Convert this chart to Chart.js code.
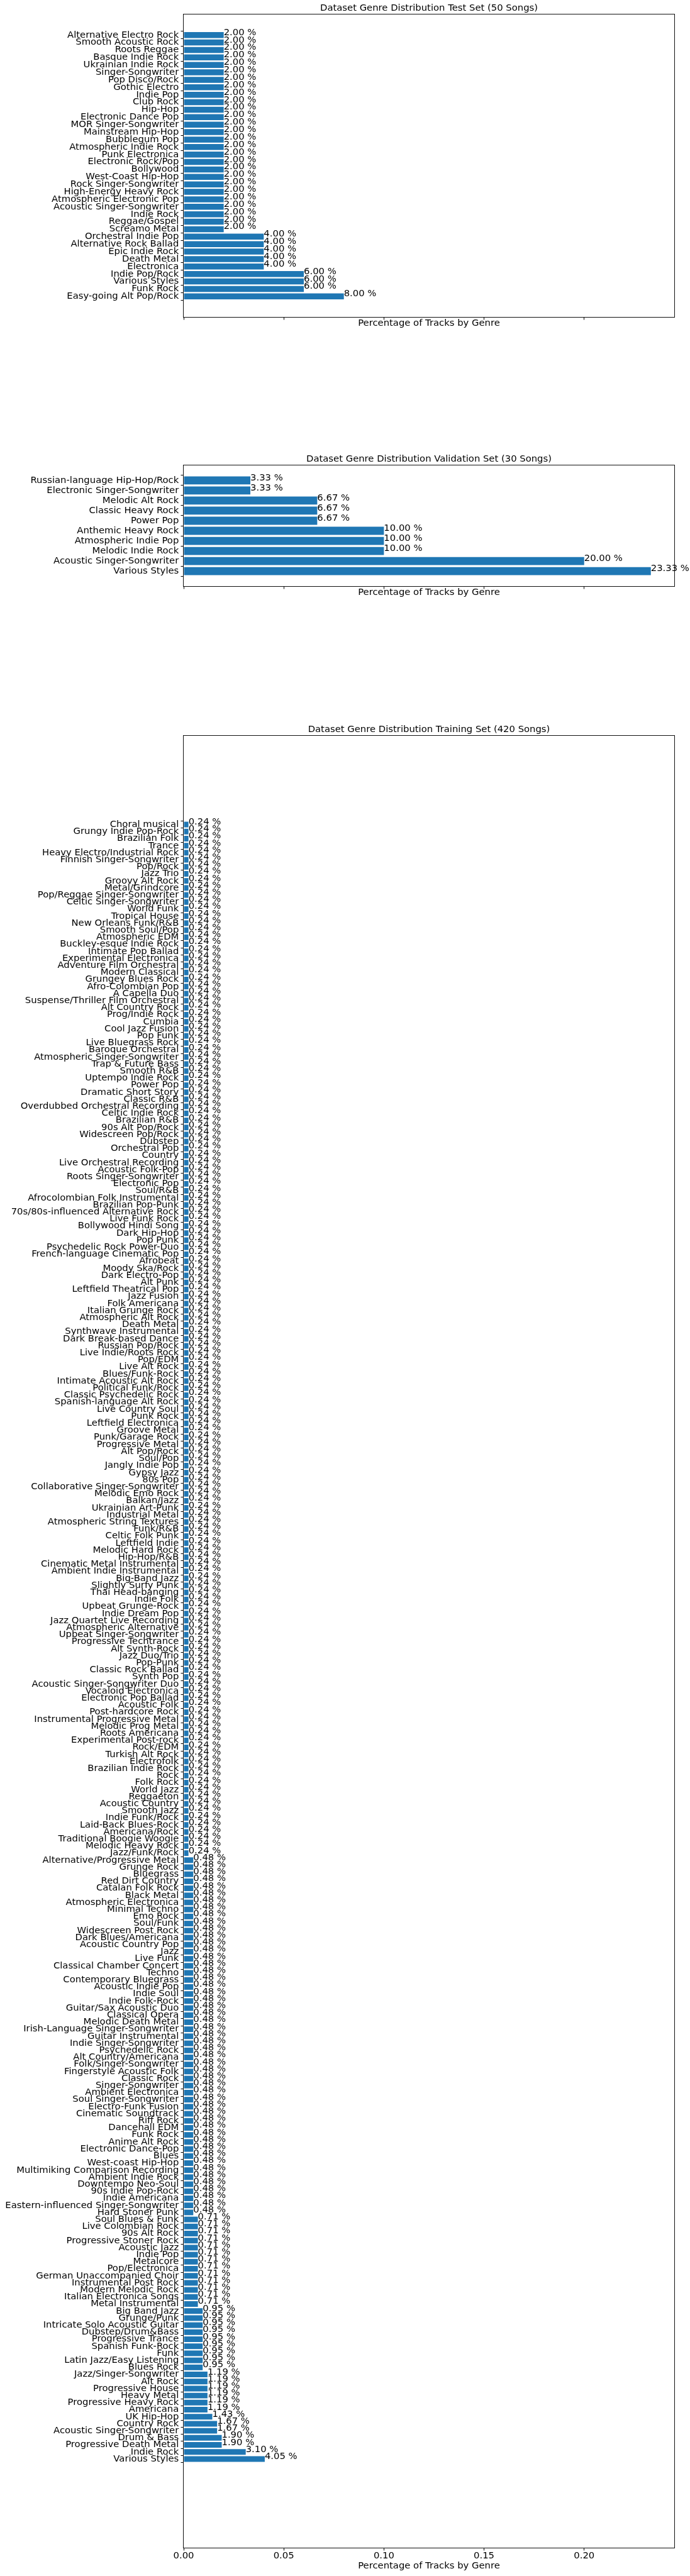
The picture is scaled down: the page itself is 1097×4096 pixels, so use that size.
<!DOCTYPE html>
<html><head><meta charset="utf-8">
<script src="https://cdn.jsdelivr.net/npm/chart.js@4.4.1/dist/chart.umd.min.js"></script>
<style>
html,body{margin:0;padding:0;background:#fff;}
#wrap{position:relative;width:1097px;height:4096px;background:#fff;overflow:hidden;}
canvas{position:absolute;left:0;}
</style></head><body><div id="wrap">
<canvas id="cTest"></canvas><canvas id="cVal"></canvas><canvas id="cTrain"></canvas>
</div>
<script>
// ---------------- DATA ----------------
const xLabel = "Percentage of Tracks by Genre";
const xTickValues = [0, 0.05, 0.10, 0.15, 0.20];
const xTickLabels = ["0.00", "0.05", "0.10", "0.15", "0.20"];

const testTitle = "Dataset Genre Distribution Test Set (50 Songs)";
const testCats = [
 "Alternative Electro Rock","Smooth Acoustic Rock","Roots Reggae","Basque Indie Rock","Ukrainian Indie Rock",
 "Singer-Songwriter","Pop Disco/Rock","Gothic Electro","Indie Pop","Club Rock","Hip-Hop","Electronic Dance Pop",
 "MOR Singer-Songwriter","Mainstream Hip-Hop","Bubblegum Pop","Atmospheric Indie Rock","Punk Electronica",
 "Electronic Rock/Pop","Bollywood","West-Coast Hip-Hop","Rock Singer-Songwriter","High-Energy Heavy Rock",
 "Atmospheric Electronic Pop","Acoustic Singer-Songwriter","Indie Rock","Reggae/Gospel","Screamo Metal",
 "Orchestral Indie Pop","Alternative Rock Ballad","Epic Indie Rock","Death Metal","Electronica",
 "Indie Pop/Rock","Various Styles","Funk Rock","Easy-going Alt Pop/Rock"
];
const testPct = [
 2.00,2.00,2.00,2.00,2.00,2.00,2.00,2.00,2.00,
 2.00,2.00,2.00,2.00,2.00,2.00,2.00,2.00,2.00,
 2.00,2.00,2.00,2.00,2.00,2.00,2.00,2.00,2.00,
 4.00,4.00,4.00,4.00,4.00,
 6.00,6.00,6.00,
 8.00
];

const valTitle = "Dataset Genre Distribution Validation Set (30 Songs)";
const valCats = [
 "Russian-language Hip-Hop/Rock","Electronic Singer-Songwriter","Melodic Alt Rock","Classic Heavy Rock",
 "Power Pop","Anthemic Heavy Rock","Atmospheric Indie Pop","Melodic Indie Rock",
 "Acoustic Singer-Songwriter","Various Styles"
];
const valPct = [3.33,3.33,6.67,6.67,6.67,10.00,10.00,10.00,20.00,23.33];

const trainTitle = "Dataset Genre Distribution Training Set (420 Songs)";
const trainCats = [
 "Choral musical","Grungy Indie Pop-Rock","Brazilian Folk","Trance","Heavy Electro/Industrial Rock",
 "Finnish Singer-Songwriter","Pop/Rock","Jazz Trio","Groovy Alt Rock","Metal/Grindcore",
 "Pop/Reggae Singer-Songwriter","Celtic Singer-Songwriter","World Funk","Tropical House","New Orleans Funk/R&B",
 "Smooth Soul/Pop","Atmospheric EDM","Buckley-esque Indie Rock","Intimate Pop Ballad","Experimental Electronica",
 "Adventure Film Orchestral","Modern Classical","Grungey Blues Rock","Afro-Colombian Pop","A Capella Duo",
 "Suspense/Thriller Film Orchestral","Alt Country Rock","Prog/Indie Rock","Cumbia","Cool Jazz Fusion",
 "Pop Funk","Live Bluegrass Rock","Baroque Orchestral","Atmospheric Singer-Songwriter","Trap & Future Bass",
 "Smooth R&B","Uptempo Indie Rock","Power Pop","Dramatic Short Story","Classic R&B",
 "Overdubbed Orchestral Recording","Celtic Indie Rock","Brazilian R&B","90s Alt Pop/Rock","Widescreen Pop/Rock",
 "Dubstep","Orchestral Pop","Country","Live Orchestral Recording","Acoustic Folk-Pop",
 "Roots Singer-Songwriter","Electronic Pop","Soul/R&B","Afrocolombian Folk Instrumental","Brazilian Pop-Punk",
 "70s/80s-influenced Alternative Rock","Live Funk Rock","Bollywood Hindi Song","Dark Hip-Hop","Pop Punk",
 "Psychedelic Rock Power-Duo","French-language Cinematic Pop","Afrobeat","Moody Ska/Rock","Dark Electro-Pop",
 "Alt Punk","Leftfield Theatrical Pop","Jazz Fusion","Folk Americana","Italian Grunge Rock",
 "Atmospheric Alt Rock","Death Metal","Synthwave Instrumental","Dark Break-based Dance","Russian Pop/Rock",
 "Live Indie/Roots Rock","Pop/EDM","Live Alt Rock","Blues/Funk-Rock","Intimate Acoustic Alt Rock",
 "Political Funk/Rock","Classic Psychedelic Rock","Spanish-language Alt Rock","Live Country Soul","Punk Rock",
 "Leftfield Electronica","Groove Metal","Punk/Garage Rock","Progressive Metal","Alt Pop/Rock",
 "Soul/Pop","Jangly Indie Pop","Gypsy Jazz","80s Pop","Collaborative Singer-Songwriter",
 "Melodic Emo Rock","Balkan/Jazz","Ukrainian Art-Punk","Industrial Metal","Atmospheric String Textures",
 "Funk/R&B","Celtic Folk Punk","Leftfield Indie","Melodic Hard Rock","Hip-Hop/R&B",
 "Cinematic Metal Instrumental","Ambient Indie Instrumental","Big-Band Jazz","Slightly Surfy Punk","Thai Head-banging",
 "Indie Folk","Upbeat Grunge-Rock","Indie Dream Pop","Jazz Quartet Live Recording","Atmospheric Alternative",
 "Upbeat Singer-Songwriter","Progressive Techtrance","Alt Synth-Rock","Jazz Duo/Trio","Pop-Punk",
 "Classic Rock Ballad","Synth Pop","Acoustic Singer-Songwriter Duo","Vocaloid Electronica","Electronic Pop Ballad",
 "Acoustic Folk","Post-hardcore Rock","Instrumental Progressive Metal","Melodic Prog Metal","Roots Americana",
 "Experimental Post-rock","Rock/EDM","Turkish Alt Rock","Electrofolk","Brazilian Indie Rock",
 "Rock","Folk Rock","World Jazz","Reggaeton","Acoustic Country",
 "Smooth Jazz","Indie Funk/Rock","Laid-Back Blues-Rock","Americana/Rock","Traditional Boogie Woogie",
 "Melodic Heavy Rock","Jazz/Funk/Rock",
 "Alternative/Progressive Metal","Grunge Rock","Bluegrass","Red Dirt Country","Catalan Folk Rock",
 "Black Metal","Atmospheric Electronica","Minimal Techno","Emo Rock","Soul/Funk",
 "Widescreen Post Rock","Dark Blues/Americana","Acoustic Country Pop","Jazz","Live Funk",
 "Classical Chamber Concert","Techno","Contemporary Bluegrass","Acoustic Indie Pop","Indie Soul",
 "Indie Folk-Rock","Guitar/Sax Acoustic Duo","Classical Opera","Melodic Death Metal","Irish-Language Singer-Songwriter",
 "Guitar Instrumental","Indie Singer-Songwriter","Psychedelic Rock","Alt Country/Americana","Folk/Singer-Songwriter",
 "Fingerstyle Acoustic Folk","Classic Rock","Singer-Songwriter","Ambient Electronica","Soul Singer-Songwriter",
 "Electro-Funk Fusion","Cinematic Soundtrack","Riff Rock","Dancehall EDM","Funk Rock",
 "Anime Alt Rock","Electronic Dance-Pop","Blues","West-coast Hip-Hop","Multimiking Comparison Recording",
 "Ambient Indie Rock","Downtempo Neo-Soul","90s Indie Pop-Rock","Indie Americana","Eastern-influenced Singer-Songwriter",
 "Hard Stoner Punk",
 "Soul Blues & Funk","Live Colombian Rock","90s Alt Rock","Progressive Stoner Rock","Acoustic Jazz",
 "Indie Pop","Metalcore","Pop/Electronica","German Unaccompanied Choir","Instrumental Post Rock",
 "Modern Melodic Rock","Italian Electronica Songs","Metal Instrumental",
 "Big Band Jazz","Grunge/Punk","Intricate Solo Acoustic Guitar","Dubstep/Drum&Bass","Progressive Trance",
 "Spanish Funk-Rock","Funk","Latin Jazz/Easy Listening","Blues Rock",
 "Jazz/Singer-Songwriter","Alt Rock","Progressive House","Heavy Metal","Progressive Heavy Rock","Americana",
 "UK Hip-Hop","Country Rock","Acoustic Singer-Songwriter","Drum & Bass","Progressive Death Metal",
 "Indie Rock","Various Styles"
];
const trainPct = [
 0.24,0.24,0.24,0.24,0.24,0.24,0.24,
 0.24,0.24,0.24,0.24,0.24,0.24,0.24,
 0.24,0.24,0.24,0.24,0.24,0.24,0.24,
 0.24,0.24,0.24,0.24,0.24,0.24,0.24,
 0.24,0.24,0.24,0.24,0.24,0.24,0.24,
 0.24,0.24,0.24,0.24,0.24,0.24,0.24,
 0.24,0.24,0.24,0.24,0.24,0.24,0.24,
 0.24,0.24,0.24,0.24,0.24,0.24,0.24,
 0.24,0.24,0.24,0.24,0.24,0.24,0.24,
 0.24,0.24,0.24,0.24,0.24,0.24,0.24,
 0.24,0.24,0.24,0.24,0.24,0.24,0.24,
 0.24,0.24,0.24,0.24,0.24,0.24,0.24,
 0.24,0.24,0.24,0.24,0.24,0.24,0.24,
 0.24,0.24,0.24,0.24,0.24,0.24,0.24,
 0.24,0.24,0.24,0.24,0.24,0.24,0.24,
 0.24,0.24,0.24,0.24,0.24,0.24,0.24,
 0.24,0.24,0.24,0.24,0.24,0.24,0.24,
 0.24,0.24,0.24,0.24,0.24,0.24,0.24,
 0.24,0.24,0.24,0.24,0.24,0.24,0.24,
 0.24,0.24,0.24,0.24,0.24,0.24,0.24,
 0.24,0.24,0.24,0.24,0.24,0.24,0.24,
 0.48,0.48,0.48,0.48,0.48,0.48,0.48,
 0.48,0.48,0.48,0.48,0.48,0.48,0.48,
 0.48,0.48,0.48,0.48,0.48,0.48,0.48,
 0.48,0.48,0.48,0.48,0.48,0.48,0.48,
 0.48,0.48,0.48,0.48,0.48,0.48,0.48,
 0.48,0.48,0.48,0.48,0.48,0.48,0.48,
 0.48,0.48,0.48,0.48,0.48,0.48,0.48,
 0.48,0.48,
 0.71,0.71,0.71,0.71,0.71,0.71,0.71,
 0.71,0.71,0.71,0.71,0.71,0.71,
 0.95,0.95,0.95,0.95,0.95,0.95,0.95,
 0.95,0.95,
 1.19,1.19,1.19,1.19,1.19,1.19,
 1.43,1.67,1.67,1.90,1.90,3.10,4.05
];

// ---------------- LAYOUT / STYLE ----------------
const FONT = "DejaVu Sans";
const FS = 14.8;
const BAR_COLOR = "#1f77b4";
const W = 1097, AREA_LEFT = 292, AREA_RIGHT = 1072, X_MAX = 0.245;
Chart.defaults.font.family = FONT;

const overlayPlugin = {
  id: "overlay",
  afterDatasetsDraw(chart, args, opts) {
    const {ctx, chartArea: a, scales: {x, y}} = chart;
    ctx.save();
    ctx.strokeStyle = "#111";
    ctx.lineWidth = 1;
    ctx.strokeRect(Math.round(a.left) - 0.5, Math.round(a.top) - 0.5,
                   Math.round(a.right) - Math.round(a.left) + 1, Math.round(a.bottom) - Math.round(a.top) + 1);
    ctx.font = FS + "px '" + FONT + "'";
    ctx.fillStyle = "#000";
    ctx.textAlign = "left";
    ctx.textBaseline = "alphabetic";
    opts.pct.forEach((p, i) => {
      ctx.fillText(p.toFixed(2) + " %", x.getPixelForValue(p / 100), y.getPixelForValue(i));
    });
    ctx.restore();
  }
};

function makeChart(id, cfg) {
  const canvas = document.getElementById(id);
  const hRaw = cfg.areaBottom + cfg.xH - cfg.canvasTop;
  const h = Math.ceil(hRaw);
  canvas.width = W; canvas.height = h;
  canvas.style.top = cfg.canvasTop + "px";
  canvas.style.width = W + "px"; canvas.style.height = h + "px";
  const lh = FS * 1.2;
  const titleMid = 9.9;
  const tPadTop = cfg.areaTop - cfg.canvasTop - titleMid - lh / 2;
  const tPadBottom = titleMid + lh / 2 - lh;
  const cats = cfg.cats, pct = cfg.pct, n = cats.length;
  const margin = 0.05 * (n - 0.2);
  return new Chart(canvas, {
    type: "bar",
    data: {
      labels: cats,
      datasets: [{
        data: pct.map((p, i) => ({x: p / 100, y: i})),
        backgroundColor: BAR_COLOR, borderWidth: 0,
        barPercentage: 0.8, categoryPercentage: 1.0
      }]
    },
    plugins: [overlayPlugin],
    options: {
      indexAxis: "y",
      responsive: false, animation: false, devicePixelRatio: 1,
      layout: {padding: {left: 0, right: W - AREA_RIGHT, top: 0, bottom: h - hRaw}},
      plugins: {
        legend: {display: false}, tooltip: {enabled: false},
        title: {display: true, text: cfg.title, fullSize: false, color: "#000",
                font: {family: FONT, size: FS, weight: "normal"},
                padding: {top: tPadTop, bottom: tPadBottom}},
        overlay: {pct: pct}
      },
      scales: {
        y: {
          type: "linear", reverse: true, bounds: "data",
          min: -0.4 - margin, max: n - 1 + 0.4 + margin,
          afterBuildTicks: s => { s.ticks = cats.map((_, i) => ({value: i})); },
          afterFit: s => { s.width = AREA_LEFT; },
          ticks: {autoSkip: false, callback: v => cats[v], color: "#000",
                  font: {family: FONT, size: FS}, padding: 3.2},
          grid: {drawOnChartArea: false, drawTicks: true, tickLength: 4.5, color: "#000", tickColor: "#000", lineWidth: 1},
          border: {display: false}
        },
        x: {
          type: "linear", bounds: "data", min: 0, max: X_MAX,
          afterBuildTicks: s => { s.ticks = xTickValues.map(v => ({value: v})); },
          afterFit: s => { s.height = cfg.xH; },
          ticks: {autoSkip: false, maxRotation: 0, color: "#000", padding: 0,
                  font: {family: FONT, size: FS},
                  callback: (v, i) => cfg.showX ? xTickLabels[i] : ""},
          grid: {drawOnChartArea: false, drawTicks: true, tickLength: 4.5, color: "#000", tickColor: "#000", lineWidth: 1},
          border: {display: false},
          title: {display: true, text: xLabel, color: "#000", font: {family: FONT, size: FS},
                  padding: {top: 0, bottom: cfg.xH - cfg.xlabMid - lh / 2}}
        }
      }
    }
  });
}

makeChart("cTest",  {title: testTitle,  cats: testCats,  pct: testPct,
  canvasTop: 0,    areaTop: 23,   areaBottom: 504,  xH: 40, xlabMid: 10.1, showX: false});
makeChart("cVal",   {title: valTitle,   cats: valCats,   pct: valPct,
  canvasTop: 700,  areaTop: 740,  areaBottom: 932,  xH: 40, xlabMid: 10.1, showX: false});
makeChart("cTrain", {title: trainTitle, cats: trainCats, pct: trainPct,
  canvasTop: 1140, areaTop: 1170, areaBottom: 4051, xH: 50, xlabMid: 29.6, showX: true});
</script>
</body></html>
